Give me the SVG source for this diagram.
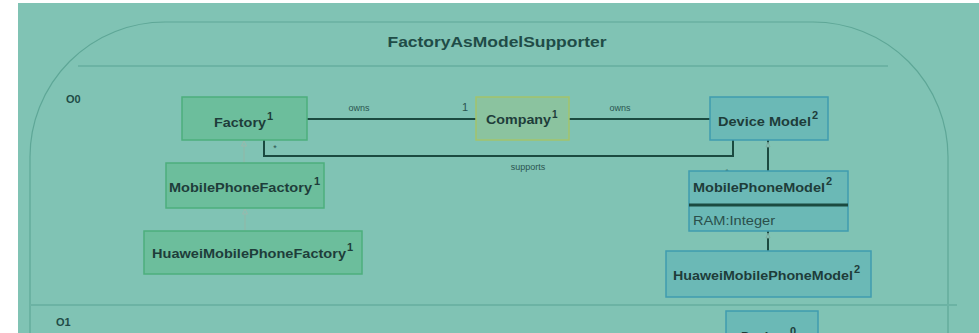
<svg xmlns="http://www.w3.org/2000/svg" width="979" height="333" viewBox="0 0 979 333">
  <defs>
    <style>
      .bg { fill: #80c3b4; }
      .frame { fill: none; stroke: #5ea797; stroke-width: 1.2; }
      .sep { stroke: #6cb3a4; stroke-width: 2; }
      .title { font-family: "Liberation Sans", Arial, sans-serif; font-weight: bold; font-size: 15px; fill: #1f4c47; }
      .obj { font-family: "Liberation Sans", Arial, sans-serif; font-weight: bold; font-size: 11px; fill: #1f4c47; }
      .name { font-family: "Liberation Sans", Arial, sans-serif; font-weight: bold; font-size: 13px; fill: #1e3d3a; }
      .sup { font-family: "Liberation Sans", Arial, sans-serif; font-weight: bold; font-size: 11px; fill: #1e3d3a; }
      .attr { font-family: "Liberation Sans", Arial, sans-serif; font-size: 12px; fill: #2a4f4b; }
      .lbl { font-family: "Liberation Sans", Arial, sans-serif; font-size: 9px; fill: #2b5550; }
      .mult { font-family: "Liberation Sans", Arial, sans-serif; font-size: 11px; fill: #2b5550; }
      .factory { fill: #6cbe9c; stroke: #4caf7c; stroke-width: 1.5; }
      .company { fill: #8bc39f; stroke: #a3c46b; stroke-width: 1.5; }
      .model { fill: #6bb9b6; stroke: #3f9caf; stroke-width: 1.5; }
      .assoc { fill: none; stroke: #1b4a40; stroke-width: 2; }
      .gen-light { fill: none; stroke: #8fb9a8; stroke-width: 1.2; }
      .gen-dark { fill: none; stroke: #1b4a40; stroke-width: 2; }
      .tri { fill: #80c3b4; stroke: #9ab9ad; stroke-width: 1; }
    </style>
  </defs>

  <!-- page -->
  <rect x="0" y="0" width="979" height="333" fill="#ffffff"/>
  <rect class="bg" x="18" y="3" width="961" height="330"/>

  <!-- outer container with rounded top -->
  <path class="frame" d="M30,340 L30,157 A135,135 0 0 1 165,22 L813,22 A135,135 0 0 1 948,157 L948,340"/>
  <text class="title" x="497" y="47" text-anchor="middle" textLength="219" lengthAdjust="spacingAndGlyphs">FactoryAsModelSupporter</text>
  <line class="sep" x1="78" y1="66" x2="888" y2="66"/>
  <line class="sep" x1="30" y1="305" x2="957" y2="305"/>

  <!-- compartment labels -->
  <text class="obj" x="66" y="103">O0</text>
  <text class="obj" x="56" y="326">O1</text>

  <!-- connectors -->
  <g id="connectors">
    <line class="assoc" x1="307" y1="119" x2="476" y2="119"/>
    <line class="assoc" x1="569" y1="119" x2="710" y2="119"/>
    <path class="assoc" d="M264,140 L264,156 L733,156 L733,140"/>
    <line class="assoc" x1="768" y1="140" x2="768" y2="171"/>
    <line class="assoc" x1="768" y1="231" x2="768" y2="251"/>
    <line class="gen-light" x1="244" y1="143" x2="244" y2="163"/>
    <line class="gen-light" x1="245" y1="211" x2="245" y2="231"/>
    <path class="tri" d="M244,141 L241.5,146 L246.5,146 Z"/>
    <path class="tri" d="M245,209 L242.5,214 L247.5,214 Z"/>
    <path d="M768,142 L766,147 L770,147 Z" fill="#80c3b4" stroke="#7fa79c" stroke-width="0.8"/>
    <path d="M768,233 L766,238 L770,238 Z" fill="#80c3b4" stroke="#7fa79c" stroke-width="0.8"/>

    <text class="lbl" x="359" y="111" text-anchor="middle">owns</text>
    <text class="mult" x="465" y="111" text-anchor="middle">1</text>
    <text class="lbl" x="620" y="111" text-anchor="middle">owns</text>
    <text class="lbl" x="528" y="170" text-anchor="middle">supports</text>
    <text class="lbl" x="275" y="151" text-anchor="middle">*</text>
    <text class="lbl" x="727" y="175" text-anchor="middle">*</text>
  </g>

  <!-- Factory -->
  <g id="factory">
    <rect class="factory" x="182" y="97" width="125" height="43"/>
    <text class="name" x="214" y="127" textLength="52" lengthAdjust="spacingAndGlyphs">Factory</text>
    <text class="sup" x="267" y="120">1</text>
  </g>

  <!-- Company -->
  <g id="company">
    <rect class="company" x="476" y="97" width="93" height="43"/>
    <text class="name" x="486" y="124" textLength="65" lengthAdjust="spacingAndGlyphs">Company</text>
    <text class="sup" x="552" y="118" style="font-size:10px">1</text>
  </g>

  <!-- Device Model -->
  <g id="device-model">
    <rect class="model" x="710" y="97" width="118" height="43"/>
    <text class="name" x="718" y="126" textLength="93" lengthAdjust="spacingAndGlyphs">Device Model</text>
    <text class="sup" x="812" y="119">2</text>
  </g>

  <!-- MobilePhoneFactory -->
  <g id="mobile-phone-factory">
    <rect class="factory" x="166" y="163" width="158" height="45"/>
    <text class="name" x="169" y="192" textLength="143" lengthAdjust="spacingAndGlyphs">MobilePhoneFactory</text>
    <text class="sup" x="314" y="185">1</text>
  </g>

  <!-- HuaweiMobilePhoneFactory -->
  <g id="huawei-mobile-phone-factory">
    <rect class="factory" x="144" y="231" width="218" height="43"/>
    <text class="name" x="152" y="258" textLength="194" lengthAdjust="spacingAndGlyphs">HuaweiMobilePhoneFactory</text>
    <text class="sup" x="347" y="251">1</text>
  </g>

  <!-- MobilePhoneModel -->
  <g id="mobile-phone-model">
    <rect class="model" x="689" y="171" width="159" height="60"/>
    <line x1="689" y1="205" x2="848" y2="205" stroke="#1b4a40" stroke-width="3"/>
    <text class="name" x="693" y="192" textLength="132" lengthAdjust="spacingAndGlyphs">MobilePhoneModel</text>
    <text class="sup" x="826" y="185">2</text>
    <text class="attr" x="693" y="225" textLength="82" lengthAdjust="spacingAndGlyphs">RAM:Integer</text>
  </g>

  <!-- HuaweiMobilePhoneModel -->
  <g id="huawei-mobile-phone-model">
    <rect class="model" x="666" y="251" width="205" height="46"/>
    <text class="name" x="673" y="280" textLength="180" lengthAdjust="spacingAndGlyphs">HuaweiMobilePhoneModel</text>
    <text class="sup" x="854" y="273">2</text>
  </g>

  <!-- Device (O1) -->
  <g id="device">
    <rect class="model" x="726" y="311" width="92" height="40"/>
    <text class="name" x="741" y="341">Device</text>
    <text class="sup" x="790" y="335">0</text>
  </g>
</svg>
